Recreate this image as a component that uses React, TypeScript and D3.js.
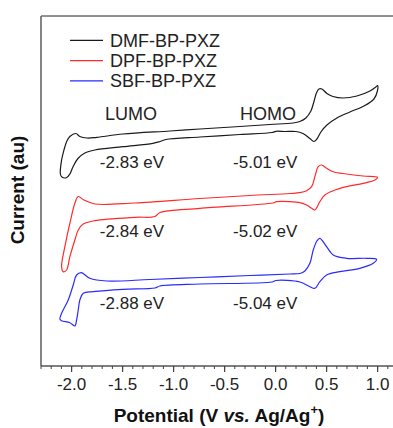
import React from "react";
import * as d3 from "d3";

// Potential (V vs. Ag/Ag+) and current (au) pairs, traced as closed CV loops
const dmfData: [number, number][] = [
  [-1.958, 23.25], [-1.919, 22.95], [-1.85, 22.8], [-1.752, 22.87], [-1.497, 23.2],
  [-1.036, 23.5], [-0.742, 23.7], [-0.35, 23.95], [-0.056, 24.15], [0.17, 24.3],
  [0.238, 24.45], [0.297, 24.8], [0.346, 25.5], [0.375, 26.4], [0.4, 27.3],
  [0.425, 27.7], [0.454, 27.7], [0.503, 27.25], [0.562, 26.95], [0.66, 26.8],
  [0.797, 27.0], [0.925, 27.5], [0.983, 27.9], [1.0, 28.05], [0.998, 27.5],
  [0.964, 26.7], [0.866, 26.0], [0.728, 25.4], [0.601, 24.8], [0.503, 24.1],
  [0.444, 23.4], [0.405, 22.7], [0.375, 22.45], [0.336, 22.75], [0.268, 23.25],
  [0.199, 23.45], [0.091, 23.45], [0.003, 23.47], [-0.036, 23.35], [-0.35, 23.15],
  [-0.742, 22.9], [-1.075, 22.65], [-1.134, 22.45], [-1.203, 22.27], [-1.497, 21.93],
  [-1.772, 21.6], [-1.87, 21.3], [-1.938, 20.75], [-1.987, 19.9], [-2.017, 19.2],
  [-2.051, 18.83], [-2.095, 18.9], [-2.11, 19.2], [-2.098, 20.6], [-2.075, 21.6],
  [-2.049, 22.43], [-2.017, 22.95],
];

const dpfData: [number, number][] = [
  [-1.935, 16.95], [-1.879, 16.6], [-1.772, 16.2], [-1.379, 16.3], [-0.742, 16.75],
  [-0.252, 17.05], [0.14, 17.25], [0.238, 17.33], [0.304, 17.53], [0.353, 17.93],
  [0.385, 18.93], [0.418, 19.93], [0.451, 20.1], [0.5, 19.77], [0.565, 19.43],
  [0.696, 19.2], [0.859, 19.0], [1.0, 18.87], [0.974, 18.6], [0.859, 18.27],
  [0.696, 17.93], [0.565, 17.53], [0.483, 17.1], [0.434, 16.43], [0.385, 15.6],
  [0.353, 15.77], [0.304, 16.1], [0.238, 16.33], [0.14, 16.43], [0.01, 16.43],
  [-0.026, 16.3], [-0.742, 15.77], [-1.134, 15.35], [-1.183, 14.95], [-1.379, 14.87],
  [-1.772, 14.53], [-1.886, 14.2], [-1.935, 13.6], [-1.968, 12.6], [-2.017, 10.93],
  [-2.049, 9.6], [-2.082, 9.43], [-2.098, 9.93], [-2.066, 11.93], [-2.017, 14.27],
  [-1.968, 16.27],
];

const sbfData: [number, number][] = [
  [-1.904, 9.33], [-1.821, 8.77], [-1.657, 8.5], [-1.232, 8.65], [-0.742, 8.85],
  [-0.252, 9.05], [0.14, 9.2], [0.238, 9.25], [0.287, 9.5], [0.336, 10.27],
  [0.369, 11.6], [0.405, 12.5], [0.434, 12.77], [0.5, 11.93], [0.565, 11.1],
  [0.696, 10.77], [0.892, 10.77], [0.99, 10.67], [0.957, 10.27], [0.826, 9.77],
  [0.63, 9.43], [0.5, 9.1], [0.434, 8.43], [0.385, 7.77], [0.336, 7.93],
  [0.238, 8.4], [0.003, 8.55], [-0.036, 8.4], [-0.742, 8.2], [-1.134, 8.0],
  [-1.183, 7.8], [-1.497, 7.67], [-1.788, 7.43], [-1.886, 7.27], [-1.919, 6.6],
  [-1.935, 5.6], [-1.951, 4.6], [-1.968, 4.0], [-2.017, 4.33], [-2.098, 4.53],
  [-2.115, 4.7], [-2.098, 5.27], [-2.033, 6.6], [-1.984, 8.1], [-1.951, 9.1],
];

const seriesNames = ["DMF-BP-PXZ", "DPF-BP-PXZ", "SBF-BP-PXZ"];
const seriesColors = ["#1a1a1a", "#ff2a2a", "#2a2aff"];
const lumoLabels = ["-2.83 eV", "-2.84 eV", "-2.88 eV"];
const homoLabels = ["-5.01 eV", "-5.02 eV", "-5.04 eV"];
// label anchor positions in data units (potential, current)
const lumoLabelPos: [number, number][] = [[-1.723, 19.8], [-1.723, 12.95], [-1.723, 5.7]];
const homoLabelPos: [number, number][] = [[-0.417, 19.8], [-0.417, 12.95], [-0.417, 5.7]];
const majorTicks = [-2.0, -1.5, -1.0, -0.5, 0.0, 0.5, 1.0];
const minorTicks = d3.range(-23, 13).map((d) => d / 10);

const W = 393;
const H = 428;
const FONT = "Arial, 'Liberation Sans', sans-serif";

export default function App() {
  const plotLeft = 41;
  const plotTop = 16;
  const plotBottom = 366;
  const x = d3.scaleLinear().domain([-2.3, 1.2]).range([plotLeft, plotLeft + 102 * 3.5]);
  const y = d3.scaleLinear().domain([0, 35]).range([plotBottom, plotTop]);
  const line = d3
    .line<[number, number]>()
    .x((d) => x(d[0]))
    .y((d) => y(d[1]))
    .curve(d3.curveCatmullRomClosed.alpha(0.5));
  const allData = [dmfData, dpfData, sbfData];

  return (
    <div style={{ position: "absolute", left: 0, top: 0 }}>
      <svg width={W} height={H} style={{ display: "block", background: "#fff" }}>
        <defs>
          <clipPath id="plotclip">
            <rect x={plotLeft} y={plotTop} width={W - plotLeft} height={plotBottom - plotTop} />
          </clipPath>
        </defs>
        {/* frame */}
        <line x1={plotLeft} x2={W + 10} y1={plotTop} y2={plotTop} stroke="#222" strokeWidth={1} />
        <line x1={plotLeft} x2={plotLeft} y1={plotTop} y2={plotBottom} stroke="#666" strokeWidth={1.6} />
        <line x1={plotLeft} x2={W + 10} y1={plotBottom} y2={plotBottom} stroke="#555" strokeWidth={1.4} />
        {/* ticks */}
        {minorTicks.map((t) => (
          <line key={"mi" + t} x1={x(t)} x2={x(t)} y1={plotBottom} y2={plotBottom + 3} stroke="#444" strokeWidth={1} />
        ))}
        {majorTicks.map((t) => (
          <g key={"ma" + t}>
            <line x1={x(t)} x2={x(t)} y1={plotBottom} y2={plotBottom + 6} stroke="#444" strokeWidth={1.2} />
            <text x={x(t)} y={390} textAnchor="middle" fontFamily={FONT} fontSize={17} fill="#222">
              {t.toFixed(1)}
            </text>
          </g>
        ))}
        {/* curves */}
        <g clipPath="url(#plotclip)">
          {allData.map((d, i) => (
            <path key={i} d={line(d) || ""} fill="none" stroke={seriesColors[i]} strokeWidth={1.2} />
          ))}
        </g>
        {/* legend */}
        {seriesNames.map((n, i) => (
          <g key={n}>
            <line x1={70} x2={103} y1={40.3 + i * 20.3} y2={40.3 + i * 20.3} stroke={seriesColors[i]} strokeWidth={1.2} />
            <text x={110} y={46.5 + i * 20.3} fontFamily={FONT} fontSize={18} fill="#222">
              {n}
            </text>
          </g>
        ))}
        {/* LUMO/HOMO labels */}
        <text x={105} y={120} fontFamily={FONT} fontSize={18} fill="#222">LUMO</text>
        <text x={240} y={120} fontFamily={FONT} fontSize={18} fill="#222">HOMO</text>
        {lumoLabels.map((l, i) => (
          <text key={l} x={x(lumoLabelPos[i][0])} y={y(lumoLabelPos[i][1])} fontFamily={FONT} fontSize={17} fill="#222">
            {l}
          </text>
        ))}
        {homoLabels.map((l, i) => (
          <text key={l} x={x(homoLabelPos[i][0])} y={y(homoLabelPos[i][1])} fontFamily={FONT} fontSize={17} fill="#222">
            {l}
          </text>
        ))}
        {/* axis titles */}
        <text
          transform="translate(24,190) rotate(-90)"
          textAnchor="middle"
          fontFamily={FONT}
          fontSize={19}
          fontWeight="bold"
          fill="#111"
        >
          Current (au)
        </text>
        <text x={219} y={421.5} textAnchor="middle" fontFamily={FONT} fontSize={19} fontWeight="bold" fill="#111">
          Potential (V <tspan fontStyle="italic">vs.</tspan> Ag/Ag
          <tspan fontSize={13} dy={-8}>+</tspan>
          <tspan dy={8}>)</tspan>
        </text>
      </svg>
    </div>
  );
}
